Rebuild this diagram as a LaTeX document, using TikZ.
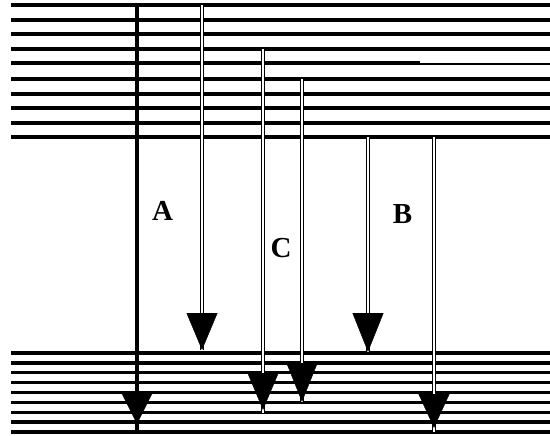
\documentclass[tikz,border=0pt]{standalone}
\usepackage{fontspec}
\setmainfont{Liberation Serif}
\usetikzlibrary{arrows.meta}
\begin{document}
\begin{tikzpicture}[x=1pt,y=-1pt,
  level/.style={line width=3.4pt, line cap=butt},
  thinlevel/.style={line width=2pt},
  solidline/.style={line width=3.4pt},
  dblline/.style={draw=black, double=white, double distance=1.8pt, line width=1.3pt},
  headtip/.style={line width=0.4pt, -{Triangle[width=31pt,length=#1]}},
  lbl/.style={font=\fontsize{29}{31}\bfseries\selectfont, inner sep=0pt}
]
\fill[white] (0,0) rectangle (550,436);
\useasboundingbox (0,0) rectangle (550,436);

% upper levels
\foreach \yy in {5,20,34,49,79,94,108,123,137}
  \draw[level] (11,\yy) -- (550,\yy);
\draw[level] (11,63) -- (420,63);
\draw[thinlevel] (420,64) -- (550,64);

% lower levels
\foreach \i in {0,...,8}
  \draw[level] (11,{353+9.875*\i}) -- (550,{353+9.875*\i});

% named points
\coordinate (Atop) at (137,5);   \coordinate (Atip) at (137,424); \coordinate (Aend) at (137,432);
\coordinate (Dtop) at (202,5);   \coordinate (Dtip) at (202,350);
\coordinate (C1top) at (263,49); \coordinate (C1tip) at (263,410); \coordinate (C1end) at (263,413);
\coordinate (C2top) at (302,79); \coordinate (C2tip) at (302,402);
\coordinate (B1top) at (368,137); \coordinate (B1tip) at (368,352);
\coordinate (B2top) at (434,137); \coordinate (B2tip) at (434,428); \coordinate (B2end) at (434,432);

% vertical transitions
\draw[solidline] (Atop) -- (Aend);
\draw[dblline] (Dtop) -- (Dtip);
\draw[dblline] (C1top) -- (C1end);
\draw[dblline] (C2top) -- (C2tip);
\draw[dblline] (B1top) -- (B1tip);
\draw[dblline] (B2top) -- (B2end);

% arrow heads
\draw[headtip=31pt] ([yshift=31pt]Atip) -- (Atip);
\draw[headtip=37pt] ([yshift=37pt]Dtip) -- (Dtip);
\draw[headtip=37pt] ([yshift=37pt]C1tip) -- (C1tip);
\draw[headtip=39pt] ([yshift=39pt]C2tip) -- (C2tip);
\draw[headtip=39pt] ([yshift=39pt]B1tip) -- (B1tip);
\draw[headtip=34pt] ([yshift=34pt]B2tip) -- (B2tip);

% labels
\node[lbl] (labA) at (162.5,210.5) {A};
\node[lbl] (labC) at (281,248.5) {C};
\node[lbl] (labB) at (402.5,214.5) {B};
\end{tikzpicture}
\end{document}
